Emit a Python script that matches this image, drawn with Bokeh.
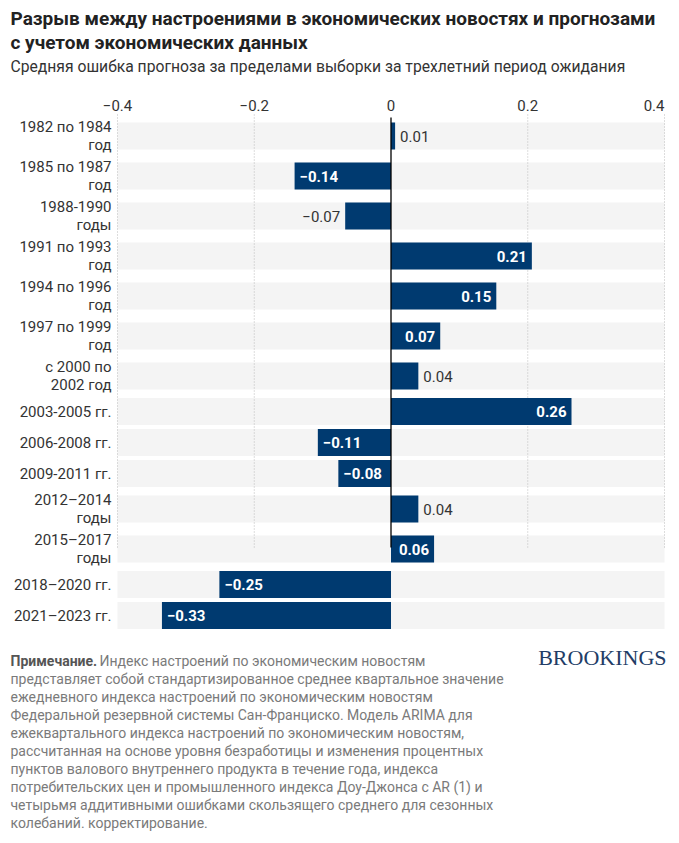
from bokeh.plotting import figure
from bokeh.models import Range1d, ColumnDataSource
from bokeh.embed import file_html
from bokeh.resources import INLINE
from bokeh.core.properties import value

# ---------------- data ----------------
categories = [
    "1982 по 1984\nгод",
    "1985 по 1987\nгод",
    "1988-1990\nгоды",
    "1991 по 1993\nгод",
    "1994 по 1996\nгод",
    "1997 по 1999\nгод",
    "с 2000 по\n2002 год",
    "2003-2005 гг.",
    "2006-2008 гг.",
    "2009-2011 гг.",
    "2012–2014\nгоды",
    "2015–2017\nгоды",
    "2018–2020 гг.",
    "2021–2023 гг.",
]
values = [0.006, -0.141, -0.067, 0.206, 0.154, 0.072, 0.040,
          0.264, -0.107, -0.077, 0.040, 0.063, -0.251, -0.335]
value_labels = ["0.01", "−0.14", "−0.07", "0.21", "0.15", "0.07", "0.04",
                "0.26", "−0.11", "−0.08", "0.04", "0.06", "−0.25", "−0.33"]
label_inside = [False, True, False, True, True, True, False,
                True, True, True, False, True, True, True]
x_ticks = [-0.4, -0.2, 0, 0.2, 0.4]
x_tick_labels = ["−0.4", "−0.2", "0", "0.2", "0.4"]

title_lines = ["Разрыв между настроениями в экономических новостях и прогнозами",
               "с учетом экономических данных"]
subtitle = "Средняя ошибка прогноза за пределами выборки за трехлетний период ожидания"
note_head = "Примечание."
note_lines = [
    " Индекс настроений по экономическим новостям",
    "представляет собой стандартизированное среднее квартальное значение",
    "ежедневного индекса настроений по экономическим новостям",
    "Федеральной резервной системы Сан-Франциско. Модель ARIMA для",
    "ежеквартального индекса настроений по экономическим новостям,",
    "рассчитанная на основе уровня безработицы и изменения процентных",
    "пунктов валового внутреннего продукта в течение года, индекса",
    "потребительских цен и промышленного индекса Доу-Джонса с AR (1) и",
    "четырьмя аддитивными ошибками скользящего среднего для сезонных",
    "колебаний. корректирование.",
]
brand = "BROOKINGS"

# ---------------- styles / layout ----------------
BAR = "#003a70"
BAND = "#f4f4f4"
FONT = value("Roboto")
W, H = 671, 840
LEFT = 10                          # left text margin (pixels)
PLOT_L, PLOT_W = 117, 547          # chart area inside the canvas (pixels)
XMIN, XMAX = -0.4, 0.4
upp = (XMAX - XMIN) / PLOT_W       # data units per pixel

# row layout (pixels): two-line rows are taller than one-line rows
BAND_H = 27
ROW_TOP = 117.5
centers = []
top = ROW_TOP
for c in categories:
    h = 36 if "\n" in c else 27
    centers.append(top + h / 2)
    top += h + 4
GRID_TOP, GRID_END = 114, 547

p = figure(width=W, height=H,
           x_range=Range1d(XMIN - PLOT_L * upp, XMAX + (W - PLOT_L - PLOT_W) * upp),
           y_range=Range1d(H, 0),
           output_backend="svg", toolbar_location=None,
           x_axis_location=None, y_axis_location=None, min_border=0)
p.extra_x_ranges = {"px": Range1d(0, W)}
p.outline_line_color = None
p.grid.visible = False
p.background_fill_color = "white"

# ---- header ----
p.text(x=[LEFT, LEFT], y=[18, 42], text=title_lines, x_range_name="px", text_font=FONT,
       text_font_style="bold", text_font_size="19px", text_color="#222222",
       text_baseline="middle")
p.text(x=[LEFT], y=[66], text=[subtitle], x_range_name="px", text_font=FONT,
       text_font_size="15.7px", text_color="#333333", text_baseline="middle")

# ---- chart ----
p.hbar(y=centers, left=XMIN, right=XMAX, height=BAND_H, fill_color=BAND, line_color=None)
grid_x = [t for t in x_ticks if t != 0]
p.segment(x0=grid_x, y0=GRID_TOP, x1=grid_x, y1=GRID_END, line_color="#bbbbbb",
          line_width=1, line_dash="1 2")
p.hbar(y=centers, left=0, right=values, height=BAND_H, fill_color=BAR, line_color=None)
p.segment(x0=[0], y0=[117], x1=[0], y1=[GRID_END], line_color="#000000", line_width=1.3)

# top tick labels
p.text(x=x_ticks, y=104.5, text=x_tick_labels, text_font=FONT, text_font_size="15px",
       text_color="#333333", text_baseline="middle",
       text_align=["center", "center", "center", "center", "right"])

# category labels
p.text(x=PLOT_L - 6, y=centers, text=categories, x_range_name="px", text_font=FONT,
       text_font_size="15px", text_color="#333333", text_align="right",
       text_baseline="middle", text_line_height=0.98)

# value labels
aligns, offs, cols, styles = [], [], [], []
for v, ins in zip(values, label_inside):
    pos = v >= 0
    if ins:
        aligns.append("right" if pos else "left")
        offs.append(-5 if pos else 5)
        cols.append("#ffffff")
        styles.append("bold")
    else:
        aligns.append("left" if pos else "right")
        offs.append(5 if pos else -5)
        cols.append("#333333")
        styles.append("normal")
src = ColumnDataSource(dict(x=values, y=centers, t=value_labels, a=aligns, o=offs,
                            c=cols, s=styles))
p.text(x="x", y="y", text="t", source=src, text_align="a", x_offset="o",
       text_color="c", text_font_style="s", text_font=FONT, text_font_size="15px",
       text_baseline="middle")

# ---- footer ----
line_y = [660 + i * 18.1 for i in range(len(note_lines))]
p.text(x=[LEFT], y=[line_y[0]], text=[note_head], x_range_name="px", text_font=FONT,
       text_font_style="bold", text_font_size="14px", text_color="#555555",
       text_baseline="middle")
p.text(x=[LEFT + 89] + [LEFT] * (len(note_lines) - 1), y=line_y, text=note_lines,
       x_range_name="px", text_font=FONT, text_font_size="14px", text_color="#7a7a7a",
       text_baseline="middle")
p.text(x=[666], y=[657], text=[brand], x_range_name="px",
       text_font=value("Liberation Serif"), text_font_size="22px", text_color="#223c66",
       text_align="right", text_baseline="middle")

open("out.html", "w").write(file_html(p, INLINE))
